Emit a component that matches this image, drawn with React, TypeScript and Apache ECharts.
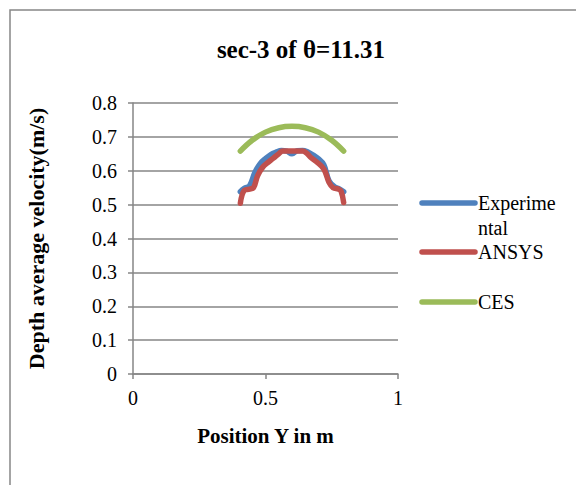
import React, { useEffect, useRef } from "react";
import * as echarts from "echarts";

const titleText = "sec-3 of θ=11.31";
const xAxisName = "Position Y in m";
const yAxisName = "Depth average velocity(m/s)";

const expX = [0.405, 0.42, 0.44, 0.46, 0.48, 0.5, 0.52, 0.54, 0.56, 0.58, 0.6, 0.62, 0.64, 0.66, 0.68, 0.7, 0.72, 0.74, 0.76, 0.78, 0.795];
const expY = [0.538, 0.548, 0.556, 0.595, 0.621, 0.636, 0.648, 0.655, 0.66, 0.658, 0.65, 0.659, 0.66, 0.655, 0.646, 0.635, 0.618, 0.57, 0.553, 0.546, 0.538];

const ansysX = [0.405, 0.42, 0.44, 0.455, 0.47, 0.49, 0.51, 0.53, 0.55, 0.565, 0.6, 0.64, 0.655, 0.67, 0.69, 0.72, 0.74, 0.755, 0.775, 0.785, 0.795];
const ansysY = [0.504, 0.542, 0.546, 0.55, 0.585, 0.611, 0.625, 0.637, 0.65, 0.658, 0.658, 0.658, 0.652, 0.64, 0.628, 0.605, 0.565, 0.55, 0.546, 0.54, 0.506];

const cesX = [0.405, 0.45, 0.5, 0.55, 0.6, 0.65, 0.7, 0.75, 0.795];
const cesY = [0.658, 0.69, 0.714, 0.727, 0.731, 0.727, 0.714, 0.69, 0.658];

const seriesNames = ["Experimental", "ANSYS", "CES"];
const legendLabels = [["Experime", "ntal"], ["ANSYS"], ["CES"]];
const colors = ["#4F81BD", "#C0504D", "#9BBB59"];

const zip = (xs: number[], ys: number[]) => xs.map((x, i) => [x, ys[i]]);

export default function App() {
  const ref = useRef<HTMLDivElement>(null);
  useEffect(() => {
    document.body.style.margin = "0";
    const chart = echarts.init(ref.current!, null, { renderer: "svg" });
    const font = "'Liberation Serif', 'Times New Roman', serif";
    const legendY = [203, 252, 302];
    const graphics: any[] = [
      {
        type: "rect",
        shape: { x: 10, y: 10, width: 800, height: 800 },
        style: { fill: "none", stroke: "#878787", lineWidth: 1.5 },
        silent: true,
      },
    ];
    legendLabels.forEach((lines, i) => {
      graphics.push({
        type: "line",
        shape: { x1: 422, y1: legendY[i], x2: 475, y2: legendY[i] },
        style: { stroke: colors[i], lineWidth: 5.5, lineCap: "round" },
      });
      lines.forEach((t, j) => {
        graphics.push({
          type: "text",
          x: 478,
          y: legendY[i] + j * 25,
          style: {
            text: t,
            font: `20px ${font}`,
            fill: "#000",
            textVerticalAlign: "middle",
            verticalAlign: "middle",
          },
        });
      });
    });
    const data = [zip(expX, expY), zip(ansysX, ansysY), zip(cesX, cesY)];
    chart.setOption({
      animation: false,
      backgroundColor: "#fff",
      title: {
        text: titleText,
        left: 296,
        textAlign: "center",
        top: 32,
        textStyle: { fontFamily: font, fontWeight: "bold", fontSize: 25, color: "#000" },
      },
      grid: { left: 133, top: 103, width: 265, height: 271, containLabel: false },
      xAxis: {
        type: "value",
        min: 0,
        max: 1,
        interval: 0.5,
        name: xAxisName,
        nameLocation: "middle",
        nameGap: 51,
        nameTextStyle: { fontFamily: font, fontWeight: "bold", fontSize: 21, color: "#000" },
        axisLine: { show: true, lineStyle: { color: "#868686", width: 1.5 } },
        axisTick: { show: true, inside: false, length: 5, lineStyle: { color: "#868686", width: 1.5 } },
        axisLabel: { fontFamily: font, fontSize: 20, color: "#000", margin: 14 },
        splitLine: { show: false },
      },
      yAxis: {
        type: "value",
        min: 0,
        max: 0.8,
        interval: 0.1,
        name: yAxisName,
        nameLocation: "middle",
        nameGap: 86,
        nameTextStyle: { fontFamily: font, fontWeight: "bold", fontSize: 22, color: "#000" },
        axisLine: { show: true, lineStyle: { color: "#868686", width: 1.5 } },
        axisTick: { show: true, inside: false, length: 5, lineStyle: { color: "#868686", width: 1.5 } },
        axisLabel: { fontFamily: font, fontSize: 20, color: "#000", margin: 16 },
        splitLine: { show: true, lineStyle: { color: "#868686", width: 1.5 } },
      },
      series: seriesNames.map((n, i) => ({
        name: n,
        type: "line",
        data: data[i],
        smooth: 0.4,
        showSymbol: false,
        symbol: "none",
        lineStyle: { color: colors[i], width: 5.5, cap: "round", join: "round" },
        itemStyle: { color: colors[i] },
      })),
      graphic: graphics,
    });
    return () => chart.dispose();
  }, []);
  return <div ref={ref} style={{ width: 576, height: 485 }} />;
}
